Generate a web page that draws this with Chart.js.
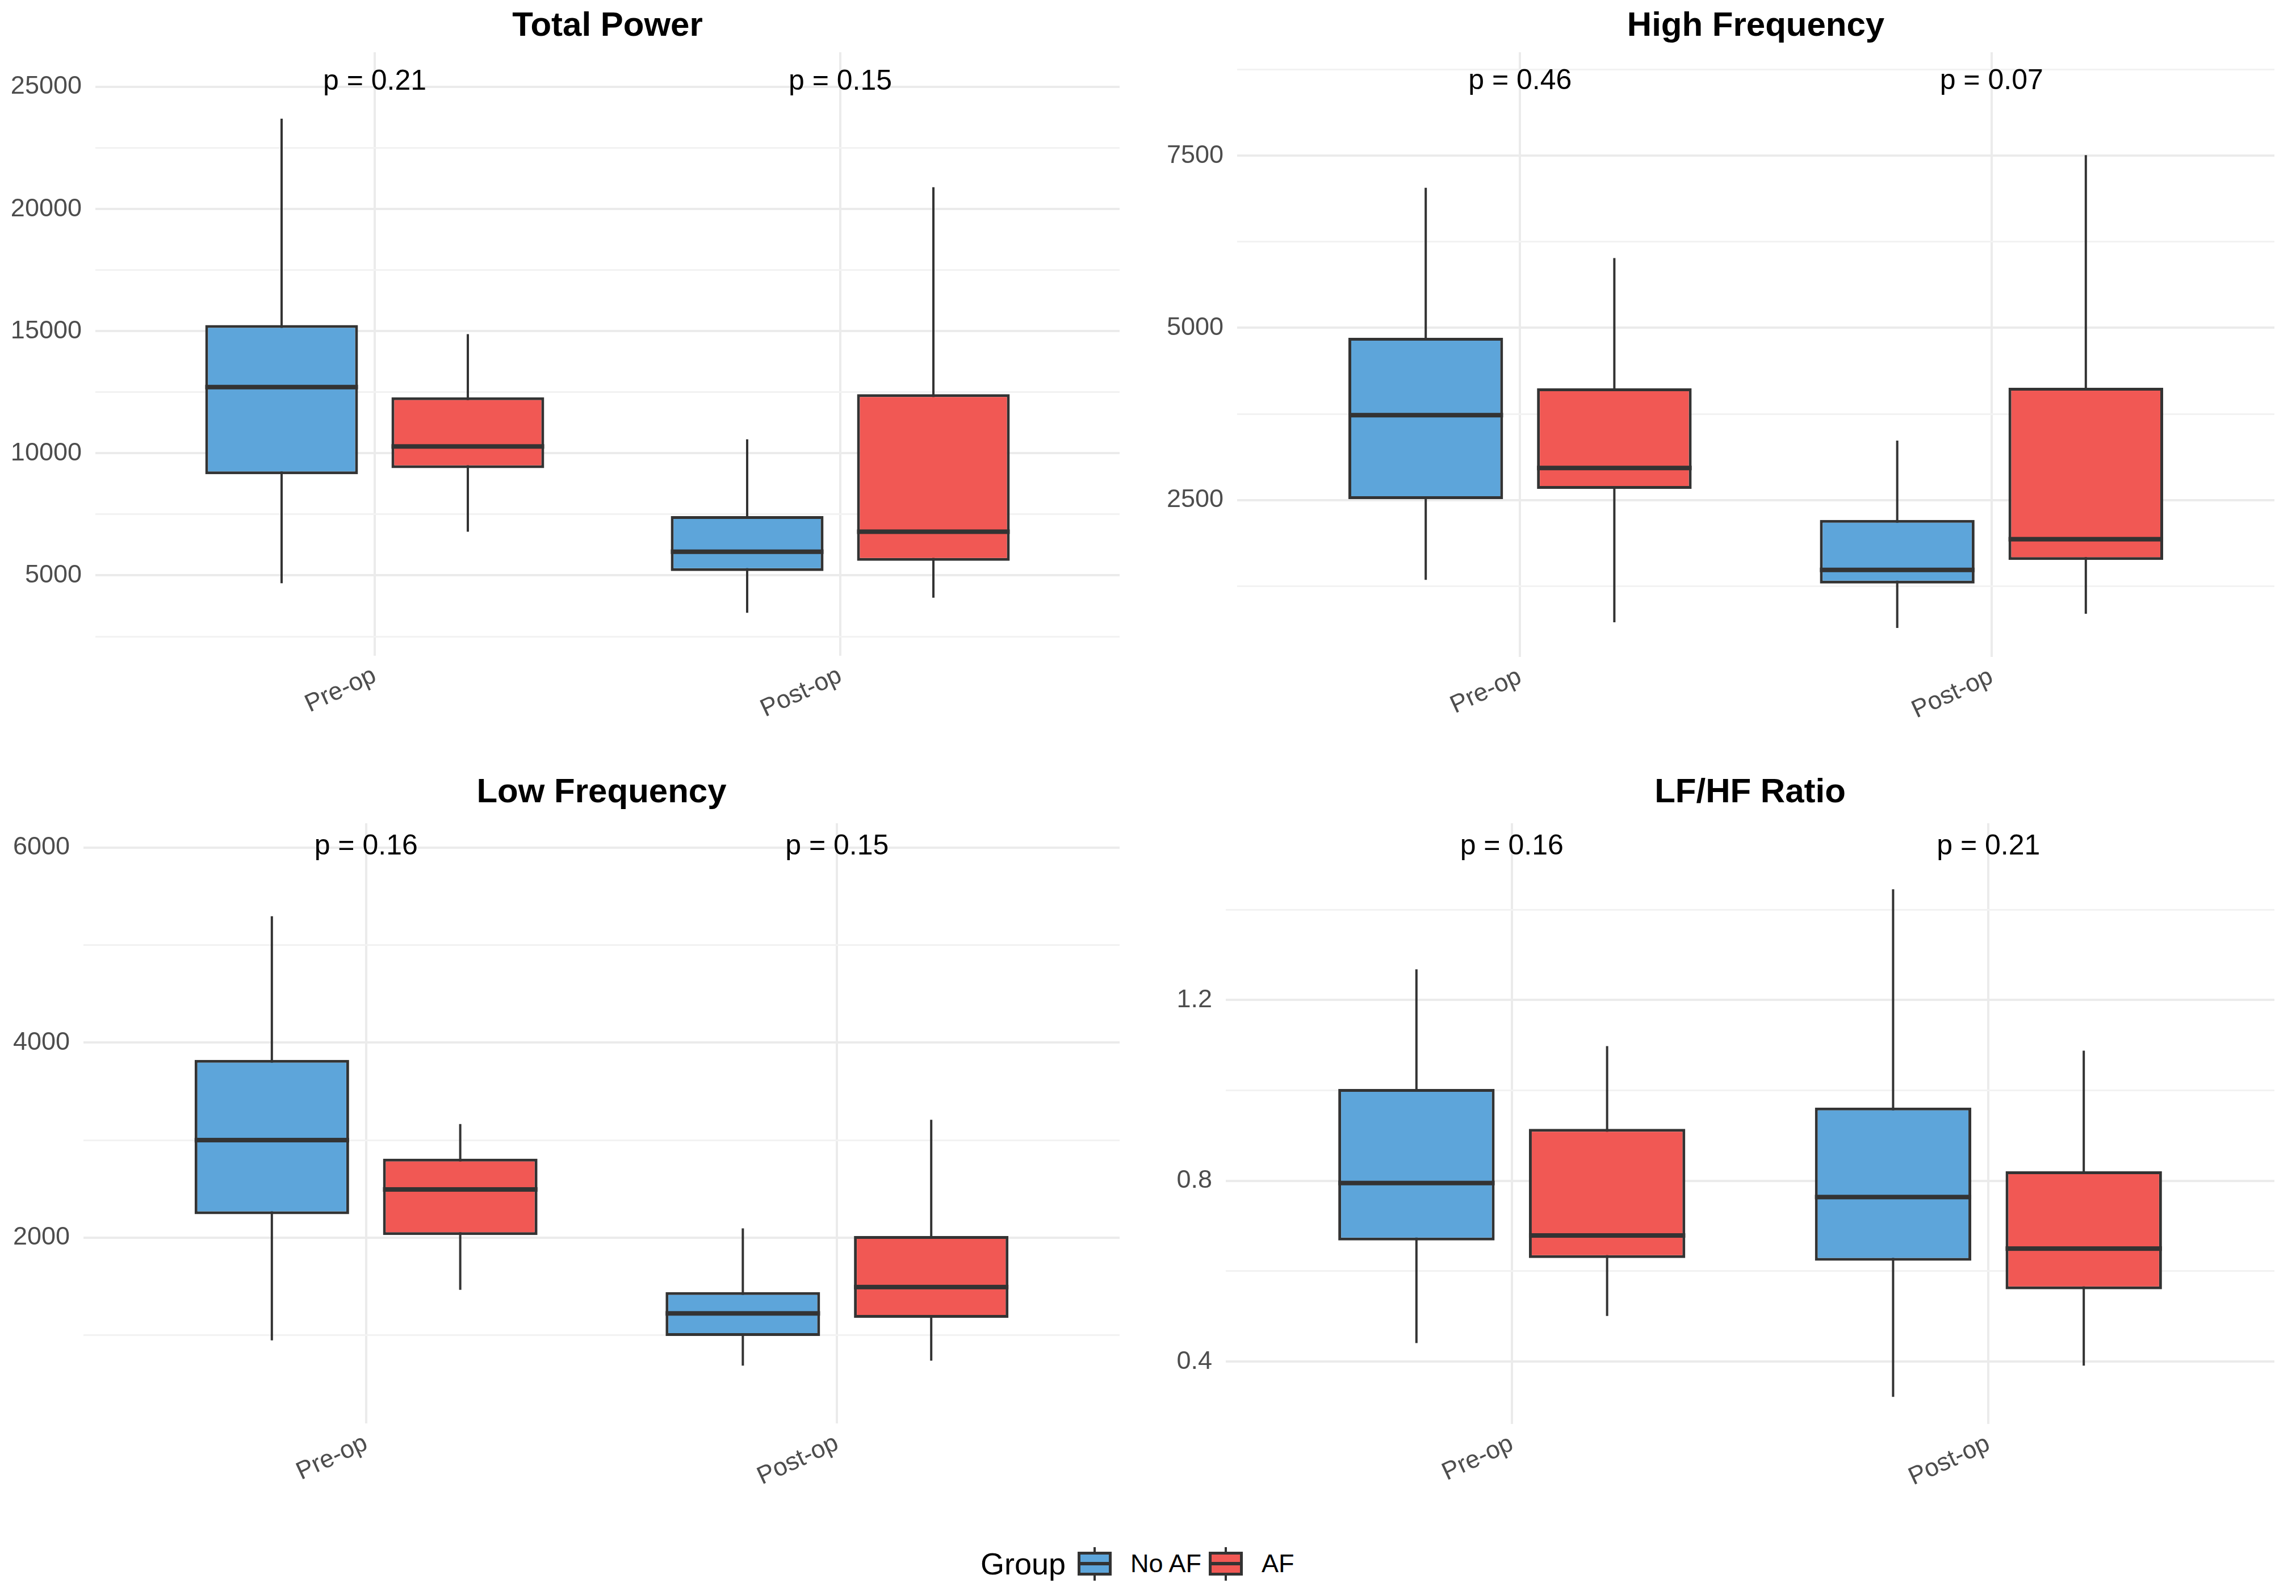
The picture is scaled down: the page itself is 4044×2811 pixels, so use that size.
<!DOCTYPE html>
<html><head><meta charset="utf-8">
<script src="https://cdn.jsdelivr.net/npm/chart.js@4.4.1/dist/chart.umd.min.js"></script>
<style>
html,body{margin:0;padding:0;background:#fff;}
#wrap{position:relative;width:4044px;height:2811px;background:#fff;overflow:hidden;font-family:"Liberation Sans",Arial,sans-serif;}
.pc{position:absolute;}
.lg{position:absolute;white-space:nowrap;color:#000;}
.key{position:absolute;box-sizing:border-box;border:5px solid #333;width:60px;height:42px;}
.key .med{position:absolute;left:0;right:0;top:50%;height:6px;margin-top:-3px;background:#333;}
.key .wu{position:absolute;left:50%;width:4px;margin-left:-2px;top:-13px;height:8px;background:#333;}
.key .wd{position:absolute;left:50%;width:4px;margin-left:-2px;bottom:-14px;height:9px;background:#333;}
</style></head><body>
<div id="wrap">
  <div class="pc" style="left:0;top:0;"><canvas id="c1" width="2022" height="1300"></canvas></div>
  <div class="pc" style="left:2022px;top:0;"><canvas id="c2" width="2022" height="1300"></canvas></div>
  <div class="pc" style="left:0;top:1300px;"><canvas id="c3" width="2022" height="1340"></canvas></div>
  <div class="pc" style="left:2022px;top:1300px;"><canvas id="c4" width="2022" height="1340"></canvas></div>
  <div class="lg" style="left:1727px;top:2724px;font-size:54px;line-height:60px;">Group</div>
  <div class="key" style="left:1898px;top:2733px;background:#5DA5DA;"><div class="med"></div><div class="wu"></div><div class="wd"></div></div>
  <div class="lg" style="left:1991px;top:2729px;font-size:45px;line-height:50px;">No AF</div>
  <div class="key" style="left:2129px;top:2733px;background:#F15854;"><div class="med"></div><div class="wu"></div><div class="wd"></div></div>
  <div class="lg" style="left:2222px;top:2729px;font-size:45px;line-height:50px;">AF</div>
</div>
<script>
// ---------------- data ----------------
const phases = ['Pre-op', 'Post-op'];
const groups = ['No AF', 'AF'];
const groupColors = ['#5DA5DA', '#F15854'];
const panelTitles = ['Total Power', 'High Frequency', 'Low Frequency', 'LF/HF Ratio'];

// five-number summaries: [lower whisker, Q1, median, Q3, upper whisker], one row per phase
const tpNoAF = [[4680, 9140, 12710, 15250, 23700], [3470, 5180, 5970, 7430, 10570]];
const tpAF   = [[6790, 9390, 10280, 12290, 14880], [4090, 5600, 6790, 12420, 20890]];
const hfNoAF = [[1343, 2514, 3733, 4856, 7034], [644, 1288, 1486, 2212, 3363]];
const hfAF   = [[726, 2664, 2966, 4123, 6014], [850, 1630, 1932, 4130, 7507]];
const lfNoAF = [[948, 2242, 3001, 3823, 5297], [689, 993, 1224, 1443, 2096]];
const lfAF   = [[1466, 2028, 2495, 2810, 3165], [740, 1179, 1494, 2017, 3210]];
const ratioNoAF = [[0.441, 0.668, 0.795, 1.003, 1.268], [0.322, 0.623, 0.764, 0.962, 1.445]];
const ratioAF   = [[0.501, 0.629, 0.679, 0.915, 1.098], [0.391, 0.560, 0.650, 0.821, 1.088]];

// p-value labels per phase and the height (data units) they sit at
const tpP = ['p = 0.21', 'p = 0.15'];
const hfP = ['p = 0.46', 'p = 0.07'];
const lfP = ['p = 0.16', 'p = 0.15'];
const ratioP = ['p = 0.16', 'p = 0.21'];
const tpPY = 25200, hfPY = 8580, lfPY = 6010, ratioPY = 1.539;

// axis ranges and tick values
const tpRange = [1711, 26418], hfRange = [223, 9002], lfRange = [96, 6250], ratioRange = [0.262, 1.591];
const tpTicks = [5000, 10000, 15000, 20000, 25000];
const tpMinor = [2500, 7500, 12500, 17500, 22500];
const hfTicks = [2500, 5000, 7500];
const hfMinor = [1250, 3750, 6250, 8750];
const lfTicks = [2000, 4000, 6000];
const lfMinor = [1000, 3000, 5000];
const ratioTicks = [0.4, 0.8, 1.2];
const ratioMinor = [0.6, 1.0, 1.4];

// ---------------- layout (pixels) ----------------
const FONT = '"Liberation Sans", Arial, sans-serif';
const layouts = [
  {id: 'c1', yW: 168, padR: 50, padT: 0, titleB: 10, xH: 145},
  {id: 'c2', yW: 157, padR: 38, padT: 0, titleB: 10, xH: 143},
  {id: 'c3', yW: 147, padR: 50, padT: 50, titleB: 18, xH: 133},
  {id: 'c4', yW: 137, padR: 38, padT: 50, titleB: 18, xH: 132}
];

const panels = [
  {noaf: tpNoAF, af: tpAF, p: tpP, py: tpPY, range: tpRange, major: tpTicks, minor: tpMinor, dec: 0},
  {noaf: hfNoAF, af: hfAF, p: hfP, py: hfPY, range: hfRange, major: hfTicks, minor: hfMinor, dec: 0},
  {noaf: lfNoAF, af: lfAF, p: lfP, py: lfPY, range: lfRange, major: lfTicks, minor: lfMinor, dec: 0},
  {noaf: ratioNoAF, af: ratioAF, p: ratioP, py: ratioPY, range: ratioRange, major: ratioTicks, minor: ratioMinor, dec: 1}
];

const boxExtras = {
  id: 'boxExtras',
  beforeDatasetsDraw(chart) {
    const ctx = chart.ctx, y = chart.scales.y;
    chart.data.datasets.forEach((ds, di) => {
      const meta = chart.getDatasetMeta(di);
      meta.data.forEach((bar, i) => {
        const s = ds.summary[i];
        ctx.save();
        ctx.strokeStyle = '#333333';
        ctx.lineWidth = 4;
        ctx.beginPath();
        ctx.moveTo(bar.x, y.getPixelForValue(s[0]));
        ctx.lineTo(bar.x, y.getPixelForValue(s[4]));
        ctx.stroke();
        ctx.restore();
      });
    });
  },
  afterDatasetsDraw(chart) {
    const ctx = chart.ctx, y = chart.scales.y, x = chart.scales.x;
    chart.data.datasets.forEach((ds, di) => {
      const meta = chart.getDatasetMeta(di);
      meta.data.forEach((bar, i) => {
        const s = ds.summary[i];
        const py = y.getPixelForValue(s[2]);
        ctx.save();
        ctx.fillStyle = '#333333';
        ctx.fillRect(bar.x - bar.width / 2, py - 4, bar.width, 8);
        ctx.restore();
      });
    });
    const opt = chart.options.plugins.boxExtras;
    ctx.save();
    ctx.fillStyle = '#000';
    ctx.font = '50px ' + FONT;
    ctx.textAlign = 'center';
    ctx.textBaseline = 'middle';
    opt.labels.forEach((t, i) => {
      ctx.fillText(t, x.getPixelForValue(i + 1), y.getPixelForValue(opt.labelY));
    });
    ctx.restore();
  }
};

panels.forEach((pd, k) => {
  const L = layouts[k];
  const gridVals = pd.major.concat(pd.minor).sort((a, b) => a - b);
  const mk = (summ, gi) => ({
    label: groups[gi],
    data: summ.map((s, i) => ({x: i + 1, y: [s[1], s[3]]})),
    summary: summ,
    backgroundColor: groupColors[gi],
    borderColor: '#333333',
    borderWidth: 5,
    borderSkipped: false,
    categoryPercentage: 0.8,
    barPercentage: 0.82
  });
  new Chart(document.getElementById(L.id), {
    type: 'bar',
    data: {datasets: [mk(pd.noaf, 0), mk(pd.af, 1)]},
    plugins: [boxExtras],
    options: {
      responsive: false,
      animation: false,
      devicePixelRatio: 1,
      layout: {padding: {top: L.padT, right: L.padR, left: 0, bottom: 0}},
      plugins: {
        legend: {display: false},
        tooltip: {enabled: false},
        title: {
          display: true, text: panelTitles[k], fullSize: false,
          color: '#000', font: {size: 60, weight: 'bold', family: FONT, lineHeight: 1.2},
          padding: {top: 10, bottom: L.titleB}
        },
        boxExtras: {labels: pd.p, labelY: pd.py}
      },
      scales: {
        x: {
          type: 'linear', min: 0.4, max: 2.6, offset: false,
          afterBuildTicks(s) { s.ticks = phases.map((p, i) => ({value: i + 1})); },
          afterFit(s) { s.height = L.xH; },
          grid: {color: '#EBEBEB', lineWidth: 4, drawTicks: false, offset: false},
          border: {display: false},
          ticks: {
            callback: (v) => phases[Math.round(v) - 1] || '',
            minRotation: 25, maxRotation: 25, autoSkip: false,
            color: '#4D4D4D', font: {size: 44, family: FONT}, padding: 9
          }
        },
        y: {
          type: 'linear', min: pd.range[0], max: pd.range[1], stacked: false,
          afterBuildTicks(s) { s.ticks = gridVals.map(v => ({value: v})); },
          afterFit(s) { s.width = L.yW; },
          grid: {
            drawTicks: false,
            color: (c) => pd.major.includes(c.tick && c.tick.value) ? '#EBEBEB' : '#F2F2F2',
            lineWidth: (c) => pd.major.includes(c.tick && c.tick.value) ? 4 : 3
          },
          border: {display: false},
          ticks: {
            callback: (v) => pd.major.includes(v) ? v.toFixed(pd.dec) : '',
            color: '#4D4D4D', font: {size: 45, family: FONT}, padding: 24
          }
        }
      }
    }
  });
});
</script>
</body></html>
